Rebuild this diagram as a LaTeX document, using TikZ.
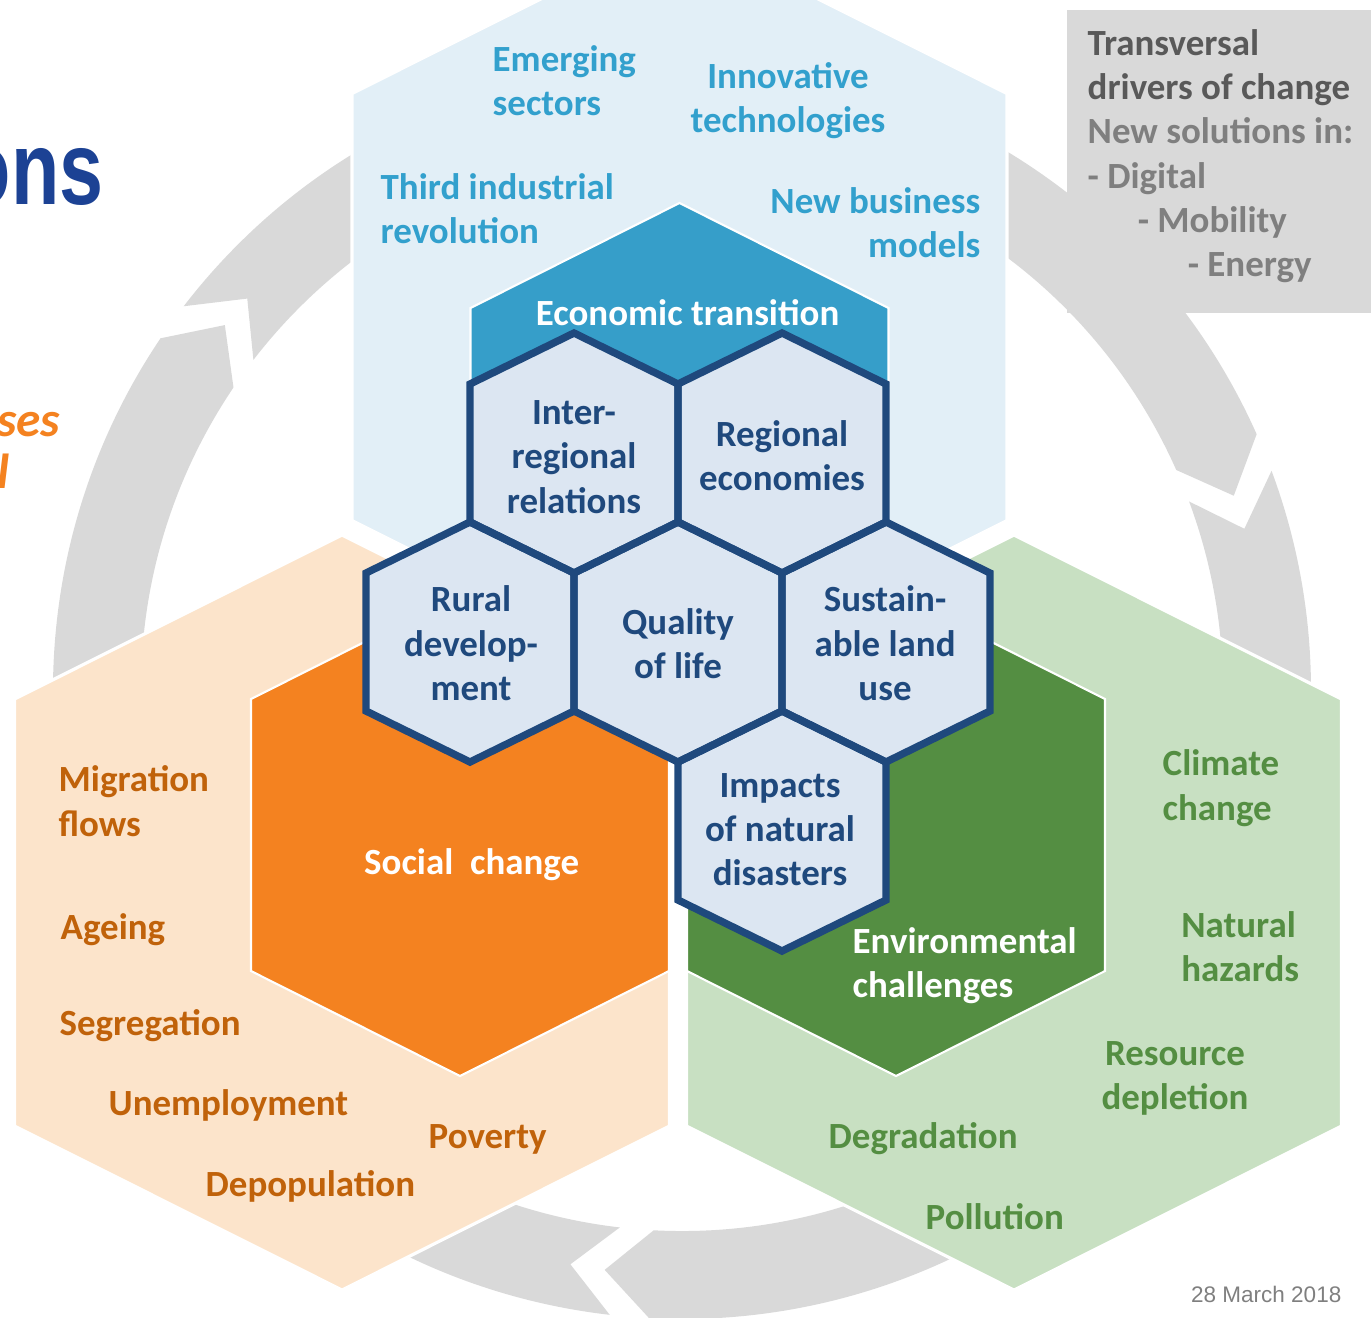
\documentclass[tikz,border=0pt]{standalone}
\usepackage{fontspec}
\setmainfont{Carlito}
\newfontfamily\arialfont{Liberation Sans}

\definecolor{ringgrey}{RGB}{217,217,217}
\definecolor{paleblue}{RGB}{226,239,247}
\definecolor{econblue}{RGB}{54,158,201}
\definecolor{bluetext}{RGB}{50,160,205}
\definecolor{peach}{RGB}{252,228,203}
\definecolor{socialorange}{RGB}{244,130,32}
\definecolor{peachtext}{RGB}{192,98,10}
\definecolor{palegreen}{RGB}{200,224,194}
\definecolor{envgreen}{RGB}{84,142,66}
\definecolor{greentext}{RGB}{84,142,66}
\definecolor{cellnavy}{RGB}{31,73,125}
\definecolor{cellfill}{RGB}{220,230,242}
\definecolor{titlenavy}{RGB}{28,66,148}
\definecolor{darkgreytext}{RGB}{89,89,89}
\definecolor{greytext}{RGB}{127,127,127}

\tikzset{
  txt/.style={font=\bfseries\fontsize{10.5}{12.6}\selectfont, inner sep=0pt, yshift=-0.04cm,
    execute at begin node=\strut, execute at end node=\strut},
  bighex/.style={draw=white, line width=0.9pt},
  midhex/.style={draw=white, line width=0.6pt},
}

% hexagon: [options]{cx}{cy}{half width}{corner offset}{vertex offset}
\newcommand{\hexcell}[6][]{%
  \path[#1] (#2,#3-#6) -- (#2+#4,#3-#5) -- (#2+#4,#3+#5) -- (#2,#3+#6)
    -- (#2-#4,#3+#5) -- (#2-#4,#3-#5) -- cycle;}

\begin{document}
\begin{tikzpicture}[x=0.01cm, y=-0.01cm]
  \useasboundingbox (0,0) rectangle (1371,1317);
  \clip (0,0) rectangle (1371,1317);

  % grey cycle of arrows
  \begin{scope}[shift={(682,690)}, y=0.01cm]
    \foreach \ta/\hb in {146/24, 24/-93, -93/-214}{
      \pgfmathsetmacro\tc{\ta-3.6}
      \pgfmathsetmacro\tn{\ta-8}
      \pgfmathsetmacro\hp{\hb-4.6}
      \fill[ringgrey] (\tc:629) arc[start angle=\tc, end angle=\hb, radius=629]
        -- (\hp:585) -- (\hb:541) arc[start angle=\hb, end angle=\tc, radius=541]
        -- (\tn:585) -- cycle;
    }
  \end{scope}

  \fill[ringgrey] (1067,10) rectangle (1371,313);

  % large hexagons
  \hexcell[bighex, fill=paleblue]{679.5}{307}{327.5}{213.5}{377.5}
  \hexcell[bighex, fill=peach]{342}{912.5}{327.5}{213.5}{377.5}
  \hexcell[bighex, fill=palegreen]{1014}{912.5}{327.5}{213.5}{377.5}

  % middle hexagons
  \hexcell[midhex, fill=econblue]{679.5}{444}{209}{136}{241}
  \hexcell[midhex, fill=socialorange]{460}{835}{209}{136}{241}
  \hexcell[midhex, fill=envgreen]{896}{835}{209}{136}{241}

  % honeycomb
  \foreach \x/\y in {574/453, 782/453, 470/642, 678/642, 886/642, 782/831}
    \hexcell[fill=cellfill]{\x}{\y}{104}{69}{120};
  \foreach \x/\y in {574/453, 782/453, 470/642, 678/642, 886/642, 782/831}
    \hexcell[draw=cellnavy, line width=2.1pt]{\x}{\y}{104}{69}{120};

  % economic transition
  \node[txt, bluetext, anchor=west, align=left] (emerging) at (492,83) {Emerging\\sectors};
  \node[txt, bluetext, align=center] (innovative) at (788,100) {Innovative\\technologies};
  \node[txt, bluetext, anchor=west, align=left] (third) at (380,211) {Third industrial\\revolution};
  \node[txt, bluetext, anchor=east, align=right] (business) at (981,225.5) {New business\\models};
  \node[txt, white] (econ) at (687.5,312.5) {Economic transition};

  % cells
  \node[txt, cellnavy, align=center] (inter) at (574,459.5) {Inter-\\regional\\relations};
  \node[txt, cellnavy, align=center] (regeco) at (782,458) {Regional\\economies};
  \node[txt, cellnavy, align=center] (rural) at (471,645.7) {Rural\\develop-\\ment};
  \node[txt, cellnavy, align=center] (quality) at (678,646) {Quality\\of life};
  \node[txt, cellnavy, align=center] (landuse) at (885,645.7) {Sustain-\\able land\\use};
  \node[txt, cellnavy, align=center] (impacts) at (780,832) {Impacts\\of natural\\disasters};

  % social change
  \node[txt, peachtext, anchor=west, align=left] (migration) at (58,803.6) {Migration\\flows};
  \node[txt, peachtext, anchor=west] (ageing) at (60,927) {Ageing};
  \node[txt, peachtext, anchor=west] (segregation) at (59,1022.7) {Segregation};
  \node[txt, peachtext, anchor=west] (unemployment) at (108,1102.8) {Unemployment};
  \node[txt, peachtext, anchor=west] (poverty) at (428,1136) {Poverty};
  \node[txt, peachtext, anchor=west] (depopulation) at (205,1183.4) {Depopulation};
  \node[txt, white, anchor=west] (social) at (363.5,862) {Social\ \ change};

  % environmental challenges
  \node[txt, greentext, anchor=west, align=left] (climate) at (1162,787.8) {Climate\\change};
  \node[txt, greentext, anchor=west, align=left] (hazards) at (1180.6,949) {Natural\\hazards};
  \node[txt, greentext, align=center] (resource) at (1175,1078) {Resource\\depletion};
  \node[txt, greentext, anchor=west] (degradation) at (828,1136) {Degradation};
  \node[txt, greentext, anchor=west] (pollution) at (925,1216.6) {Pollution};
  \node[txt, white, anchor=west, align=left] (environment) at (852,965.3) {Environmental\\challenges};

  % drivers box
  \node[txt, greytext, anchor=west, align=left] (drivers) at (1087,155.8)
    {\textcolor{darkgreytext}{Transversal}\\
     \textcolor{darkgreytext}{drivers of change}\\
     New solutions in:\\
     - Digital\\
     \hspace*{0.5cm}- Mobility\\
     \hspace*{1cm}- Energy};

  % cut off slide text
  \node[font=\arialfont\bfseries\fontsize{29.6}{32}\selectfont, titlenavy, inner sep=0pt,
    anchor=base east, xscale=0.76] (title) at (104,204) {ons};
  \node[font=\bfseries\itshape\fontsize{14}{17}\selectfont, socialorange, inner sep=0pt,
    anchor=base east] (ses) at (61,436) {ses};
  \node[font=\bfseries\itshape\fontsize{14}{17}\selectfont, socialorange, inner sep=0pt,
    anchor=base east] (lastl) at (10,488) {l};

  \node[font=\arialfont\fontsize{6.4}{7.7}\selectfont, greytext, inner sep=0pt,
    anchor=base east] (date) at (1342,1302) {28 March 2018};
\end{tikzpicture}
\end{document}
